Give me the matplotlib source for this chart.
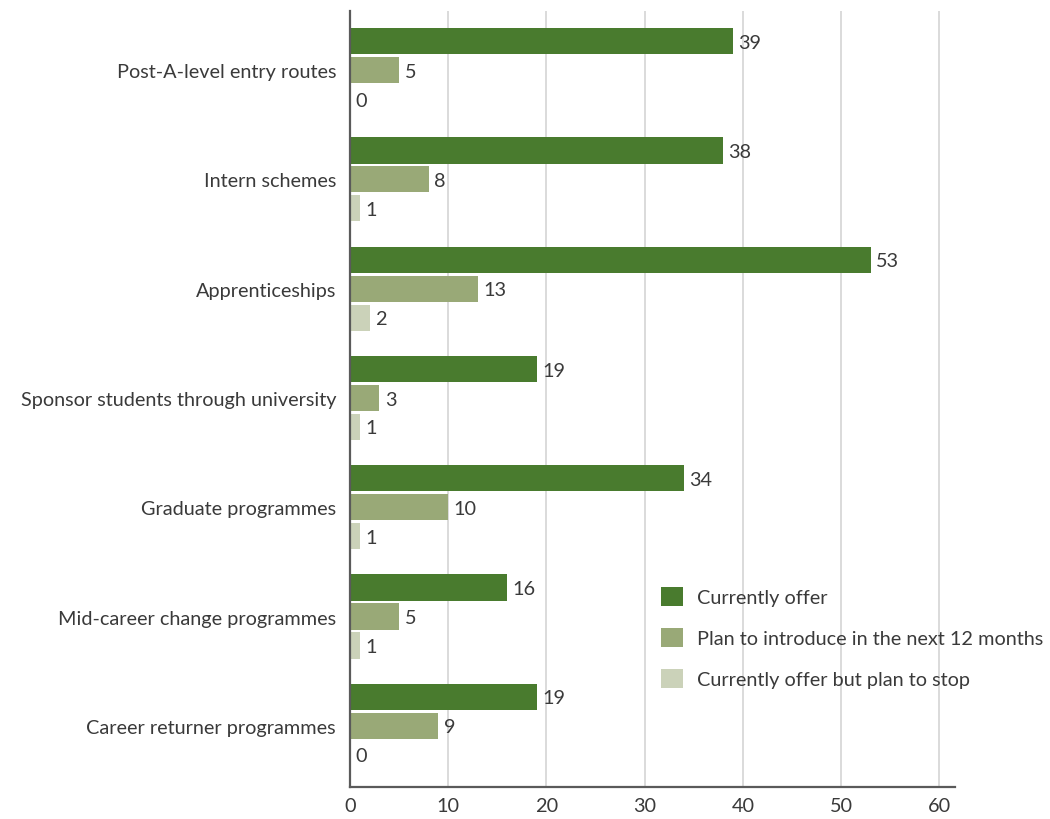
import matplotlib.pyplot as plt
import numpy as np

categories = ["Post-A-level entry routes", "Intern schemes", "Apprenticeships",
              "Sponsor students through university", "Graduate programmes",
              "Mid-career change programmes", "Career returner programmes"]
currently_offer = [39, 38, 53, 19, 34, 16, 19]
plan_introduce = [5, 8, 13, 3, 10, 5, 9]
plan_stop = [0, 1, 2, 1, 1, 1, 0]
series_names = ["Currently offer", "Plan to introduce in the next 12 months",
                "Currently offer but plan to stop"]
colors = ["#497b2e", "#99a977", "#cbd2b9"]

plt.rcParams['font.family'] = ['Lato', 'DejaVu Sans']
text_col = "#3a3a3a"
fs = 14.3

fig = plt.figure(figsize=(10.5, 8.2), dpi=100)
ax = fig.add_axes([0.3333, 0.039, 0.5762, 0.9463])

y = np.arange(len(categories))
off = 0.265
h = 0.24
for i, (vals, name) in enumerate(zip([currently_offer, plan_introduce, plan_stop], series_names)):
    pos = y + (i - 1) * off
    ax.barh(pos, vals, height=h, color=colors[i], label=name, zorder=3)
    for p, v in zip(pos, vals):
        ax.text(v + 0.55, p + 0.01, str(v), va='center', ha='left', fontsize=fs, color=text_col)

ax.set_ylim(len(categories) - 1 + 0.56, -0.54)
ax.set_xlim(0, 61.6)
ax.set_yticks(y)
ax.set_yticklabels(categories, fontsize=fs, color=text_col)
ax.set_xticks(range(0, 61, 10))
ax.tick_params(axis='x', labelsize=fs, colors=text_col, length=0, pad=7)
ax.tick_params(axis='y', length=0, pad=10)
ax.grid(axis='x', color='#d4d4d4', linewidth=1.2, zorder=0)
for s in ['top', 'right']:
    ax.spines[s].set_visible(False)
for s in ['left', 'bottom']:
    ax.spines[s].set_color('#5a5a5a')
    ax.spines[s].set_linewidth(1.6)
    ax.spines[s].set_zorder(4)

leg = ax.legend(loc='upper left', bbox_to_anchor=(0.514, 0.258), frameon=False,
                fontsize=fs, handlelength=1.1, handleheight=1.1,
                labelspacing=1.1, handletextpad=0.7, borderaxespad=0, borderpad=0)
for t in leg.get_texts():
    t.set_color(text_col)

fig.savefig("out.png", dpi=100)
